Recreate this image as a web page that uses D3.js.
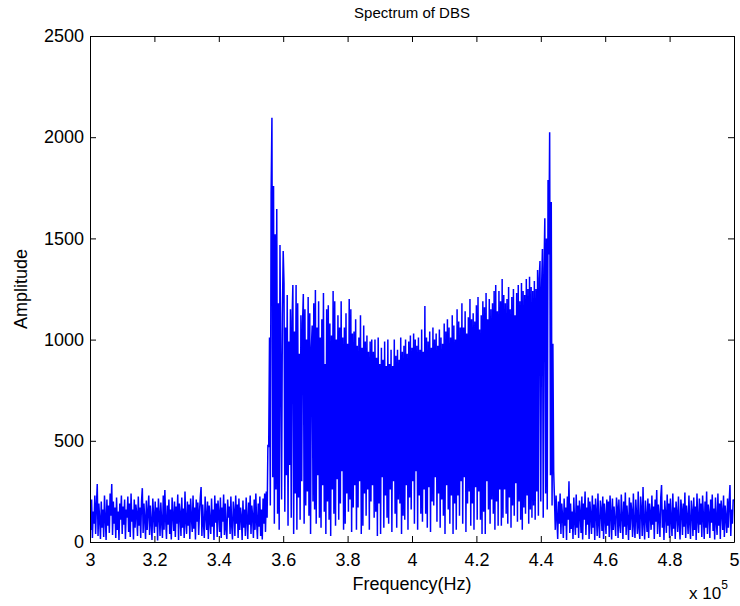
<!DOCTYPE html>
<html>
<head>
<meta charset="utf-8">
<script src="https://cdnjs.cloudflare.com/ajax/libs/d3/7.8.5/d3.min.js"></script>
<style>
  body { margin: 0; background: #fff; }
  svg text { font-family: "Liberation Sans", Arial, Helvetica, sans-serif; fill: #000; }
</style>
</head>
<body>
<svg id="chart" width="740" height="606"></svg>
<script>
// spectrum values, 250 Hz apart
var fStep = 250;
var leftStart = 300000, bandStart = 355500, rightStart = 444250;

// noise floor below the band (3.0e5 .. 3.5525e5)
var leftNoise = [
  170, 60, 210, 20, 150, 90, 230, 40, 180, 286,
  30, 190, 110, 15, 200, 70, 160, 25, 230, 120,
  10, 210, 80, 180, 45, 240, 130, 286, 35, 200,
  90, 170, 20, 220, 60, 150, 10, 190, 110, 230,
  40, 175, 85, 210, 15, 160, 120, 225, 50, 190,
  25, 240, 100, 160, 12, 210, 70, 185, 140, 30,
  225, 80, 170, 20, 200, 266, 45, 190, 115, 15,
  205, 60, 150, 230, 35, 180, 95, 10, 215, 130,
  45, 200, 75, 170, 8, 215, 140, 30, 195, 100,
  20, 230, 60, 257, 110, 15, 180, 85, 210, 40,
  160, 12, 220, 130, 55, 200, 25, 175, 90, 235,
  10, 190, 140, 30, 220, 70, 165, 20, 250, 105,
  40, 200, 80, 185, 15, 215, 120, 50, 230, 65,
  170, 12, 210, 100, 195, 35, 150, 220, 272, 30,
  185, 90, 20, 225, 130, 60, 200, 15, 180, 110,
  40, 215, 75, 160, 10, 230, 95, 190, 25, 205,
  140, 50, 220, 20, 170, 100, 235, 35, 190, 65,
  15, 210, 120, 175, 40, 225, 80, 12, 200, 150,
  30, 230, 90, 185, 20, 215, 60, 170, 125, 10,
  205, 70, 160, 30, 220, 110, 15, 195, 85, 230,
  40, 180, 130, 20, 210, 60, 240, 100, 15, 190,
  75, 225, 30, 160, 12, 215, 90, 240, 50, 250,
  120, 480
];

// the DBS band (3.555e5 .. 4.44e5)
var bandValues = [
  470, 1010, 180, 1724, 2096, 320, 1759, 90, 1520, 260,
  1645, 140, 1180, 60, 1467, 880, 210, 1120, 1438, 1280,
  150, 1060, 330, 1220, 80, 990, 380, 1150, 120, 1090,
  1270, 40, 1040, 240, 1270, 60, 1180, 220, 930, 110,
  1120, 300, 1080, 1225, 90, 1150, 180, 1000, 250, 1210,
  130, 1130, 40, 960, 1070, 200, 1180, 160, 1245, 90,
  1060, 330, 1190, 120, 1010, 70, 1100, 280, 1230, 150,
  880, 40, 1150, 200, 1170, 110, 1080, 30, 1020, 260,
  1240, 140, 1190, 80, 1000, 310, 1120, 110, 1060, 190,
  1190, 350, 1010, 60, 1060, 90, 1130, 240, 980, 150,
  1200, 210, 1150, 50, 1030, 170, 1040, 280, 1100, 60,
  970, 170, 1010, 300, 1120, 40, 960, 80, 1070, 240,
  990, 130, 1020, 260, 940, 60, 990, 200, 1000, 280,
  940, 120, 1000, 150, 910, 30, 1010, 190, 880, 40,
  960, 320, 900, 70, 990, 230, 870, 120, 1000, 90,
  880, 260, 950, 50, 870, 300, 1000, 140, 920, 70,
  950, 210, 900, 190, 1010, 40, 940, 130, 970, 110,
  1000, 280, 930, 60, 990, 220, 1020, 160, 960, 300,
  1030, 90, 1000, 350, 970, 60, 1010, 230, 950, 140,
  1050, 100, 940, 260, 1166, 140, 1010, 70, 990, 270,
  1040, 50, 960, 200, 1060, 180, 1000, 320, 1030, 100,
  970, 240, 1050, 70, 1010, 210, 980, 130, 1080, 40,
  1040, 280, 1100, 160, 1060, 90, 1010, 230, 1120, 40,
  1070, 190, 1000, 60, 1150, 230, 1090, 130, 1060, 300,
  1180, 90, 1060, 320, 1140, 50, 1030, 190, 1110, 250,
  1200, 80, 1100, 190, 1130, 60, 1090, 270, 1170, 110,
  1210, 250, 1050, 110, 1120, 40, 1190, 150, 1160, 40,
  1230, 300, 1100, 160, 1200, 90, 1150, 210, 1180, 140,
  1240, 60, 1270, 200, 1140, 80, 1240, 260, 1190, 80,
  1300, 120, 1220, 260, 1180, 140, 1200, 90, 1260, 220,
  1150, 70, 1210, 180, 1250, 130, 1120, 290, 1230, 100,
  1270, 200, 1190, 110, 1280, 60, 1240, 170, 1220, 140,
  1300, 230, 1250, 90, 1310, 160, 1260, 120, 1240, 180,
  1290, 110, 1250, 250, 1344, 130, 1300, 1388, 200, 1260,
  1448, 120, 1350, 1600, 240, 1500, 160, 1789, 1420, 2025,
  330, 1680, 180, 980, 350
];

// noise floor above the band (4.4425e5 .. 5.0e5)
var rightNoise = [
  210, 60, 230, 120, 15, 200, 90, 240, 40, 190,
  130, 20, 215, 80, 170, 10, 225, 110, 300, 45,
  190, 65, 150, 15, 220, 100, 35, 235, 70, 180,
  20, 205, 140, 45, 225, 12, 190, 110, 250, 35,
  170, 85, 220, 15, 200, 130, 40, 230, 70, 185,
  10, 215, 150, 30, 240, 90, 20, 205, 160, 55,
  225, 15, 190, 120, 40, 210, 80, 200, 25, 230,
  140, 12, 215, 60, 175, 100, 30, 220, 170, 20,
  210, 90, 45, 235, 130, 15, 200, 75, 245, 35,
  180, 110, 10, 220, 60, 195, 150, 25, 240, 85,
  20, 210, 130, 40, 250, 70, 15, 225, 160, 30,
  272, 95, 12, 205, 120, 50, 215, 20, 190, 140,
  60, 230, 85, 175, 15, 210, 100, 257, 40, 185,
  120, 25, 220, 282, 70, 160, 10, 205, 135, 45,
  235, 80, 190, 20, 215, 110, 30, 240, 65, 170,
  15, 200, 140, 50, 225, 90, 12, 210, 160, 35,
  190, 75, 245, 20, 180, 120, 40, 230, 95, 15,
  205, 150, 30, 220, 60, 175, 10, 240, 110, 45,
  215, 85, 190, 25, 230, 130, 15, 200, 70, 250,
  40, 185, 140, 20, 210, 95, 235, 55, 165, 12,
  220, 105, 35, 240, 80, 190, 15, 205, 150, 60,
  230, 25, 180, 120, 45, 215, 70, 195, 282, 30,
  160, 90, 210, 200
];

var xTicks = [3, 3.2, 3.4, 3.6, 3.8, 4, 4.2, 4.4, 4.6, 4.8, 5];
var yTicks = [0, 500, 1000, 1500, 2000, 2500];

function toPoints(arr, start){
    return arr.map(function(v, i){ return { f: start + i * fStep, a: v }; });
}

var spectrum = toPoints(leftNoise, leftStart)
    .concat(toPoints(bandValues, bandStart))
    .concat(toPoints(rightNoise, rightStart));

var svg = d3.select("#chart");
var L = 90, R = 734, T = 36, B = 542;

var x = d3.scaleLinear().domain([300000, 500000]).range([L, R]);
var y = d3.scaleLinear().domain([0, 2500]).range([B, T]);
var xs = d3.scaleLinear().domain([3, 5]).range([L, R]);  // tick labels in units of 10^5

// the trace, clipped to the axes box
svg.append("clipPath").attr("id", "box")
    .append("rect").attr("x", L).attr("y", T).attr("width", R - L).attr("height", B - T);

var line = d3.line()
    .x(function(d){ return x(d.f); })
    .y(function(d){ return y(d.a); });

svg.append("path")
    .datum(spectrum)
    .attr("clip-path", "url(#box)")
    .attr("d", line)
    .attr("fill", "none")
    .attr("stroke", "#0000ff")
    .attr("stroke-width", 1.5)
    .attr("stroke-linejoin", "miter");

// axes, ticks pointing inward on all four sides (matlab box)
var tickFmt = function(d){ return d; };
svg.append("g").attr("transform", "translate(0," + B + ")")
    .call(d3.axisBottom(xs).tickValues(xTicks).tickSizeInner(-6).tickSizeOuter(0).tickPadding(11).tickFormat(tickFmt));
svg.append("g").attr("transform", "translate(0," + T + ")")
    .call(d3.axisTop(xs).tickValues(xTicks).tickSizeInner(-6).tickSizeOuter(0).tickFormat(""));
svg.append("g").attr("transform", "translate(" + L + ",0)")
    .call(d3.axisLeft(y).tickValues(yTicks).tickSizeInner(-6).tickSizeOuter(0).tickPadding(6).tickFormat(tickFmt));
svg.append("g").attr("transform", "translate(" + R + ",0)")
    .call(d3.axisRight(y).tickValues(yTicks).tickSizeInner(-6).tickSizeOuter(0).tickFormat(""));

svg.selectAll(".domain").attr("stroke", "#000").attr("stroke-width", 1);
svg.selectAll(".tick line").attr("stroke", "#000");
svg.selectAll(".tick text").style("font-size", "18px").attr("fill", "#000");

// titles
svg.append("text").attr("x", (L + R) / 2).attr("y", 18)
    .attr("text-anchor", "middle").style("font-size", "15px")
    .text("Spectrum of DBS");

svg.append("text").attr("x", (L + R) / 2).attr("y", 590)
    .attr("text-anchor", "middle").style("font-size", "18px")
    .text("Frequency(Hz)");

svg.append("text")
    .attr("transform", "translate(27," + ((T + B) / 2) + ") rotate(-90)")
    .attr("text-anchor", "middle").style("font-size", "18px")
    .text("Amplitude");

var expo = svg.append("text").attr("x", 689).attr("y", 599).style("font-size", "17px");
expo.append("tspan").text("x 10");
expo.append("tspan").attr("dy", -10).style("font-size", "12px").text("5");
</script>
</body>
</html>
